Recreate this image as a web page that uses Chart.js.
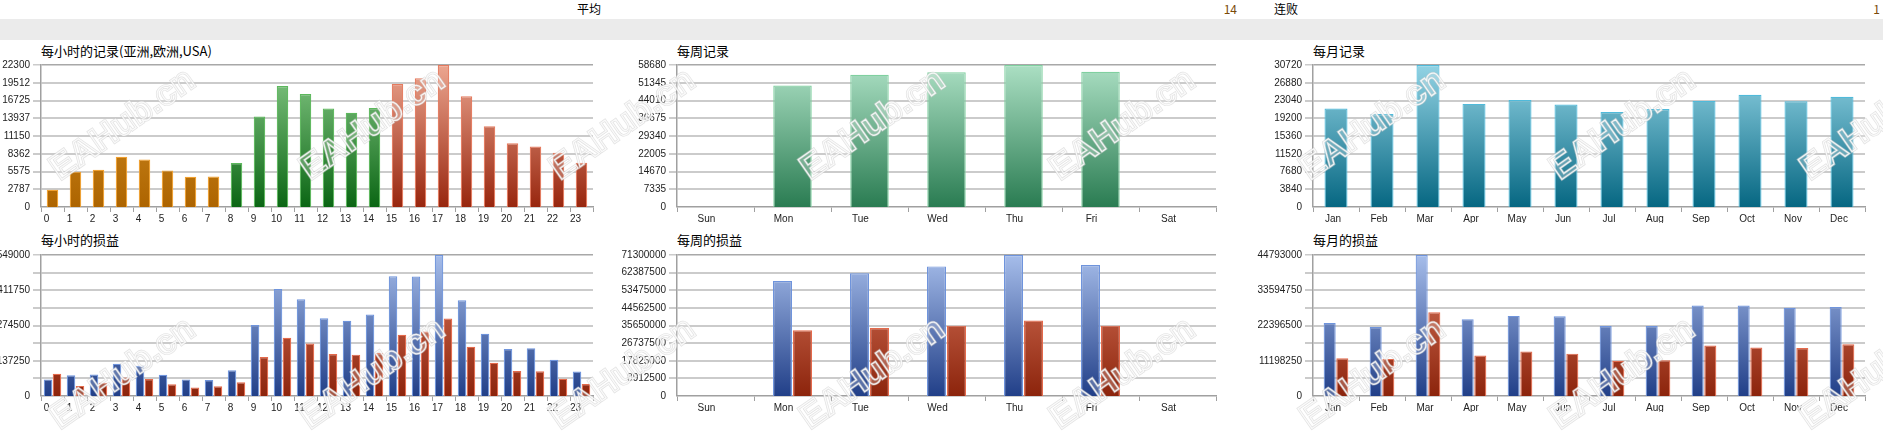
<!DOCTYPE html>
<html>
<head>
<meta charset="utf-8">
<script src="https://cdn.jsdelivr.net/npm/chart.js@4.4.1/dist/chart.umd.min.js"></script>
<style>
  body { margin: 0; width: 1883px; height: 436px; overflow: hidden; background: #fff; position: relative;
         font-family: "Noto Sans CJK SC", "Liberation Sans", sans-serif; }
  .t { position: absolute; font-size: 12px; line-height: 14px; color: #000; white-space: nowrap; }
  .num { color: #7a4a08; }
  .band { position: absolute; left: 0; top: 19px; width: 1883px; height: 21px; background: #ebebeb; }
  .ttl { position: absolute; font-size: 13px; line-height: 16px; color: #000; white-space: nowrap; }
  .box { position: absolute; }
  #mark { position: absolute; left: 0; top: 0; pointer-events: none; }
</style>
</head>
<body>
<div class="t" style="left:577px;top:2px">平均</div>
<div class="t num" style="left:1187px;top:2px;width:50px;text-align:right">14</div>
<div class="t" style="left:1274px;top:2px">连败</div>
<div class="t num" style="left:1830px;top:2px;width:50px;text-align:right">1</div>
<div class="band"></div>

<div class="ttl" style="left:41px;top:43px">每小时的记录(亚洲,欧洲,USA)</div>
<div class="ttl" style="left:677px;top:43px">每周记录</div>
<div class="ttl" style="left:1313px;top:43px">每月记录</div>
<div class="ttl" style="left:41px;top:232px">每小时的损益</div>
<div class="ttl" style="left:677px;top:232px">每周的损益</div>
<div class="ttl" style="left:1313px;top:232px">每月的损益</div>

<div class="box" style="left:0px;top:56px;width:600px;height:167px"><canvas id="hourCount"></canvas></div>
<div class="box" style="left:620px;top:56px;width:606px;height:167px"><canvas id="weekCount"></canvas></div>
<div class="box" style="left:1250px;top:56px;width:633px;height:167px"><canvas id="monthCount"></canvas></div>
<div class="box" style="left:0px;top:246px;width:600px;height:166px"><canvas id="hourPnl"></canvas></div>
<div class="box" style="left:620px;top:246px;width:606px;height:166px"><canvas id="weekPnl"></canvas></div>
<div class="box" style="left:1250px;top:246px;width:633px;height:166px"><canvas id="monthPnl"></canvas></div>
<canvas id="mark" width="1883" height="436"></canvas>

<script>
// categories
const hours = ["0","1","2","3","4","5","6","7","8","9","10","11","12","13","14","15","16","17","18","19","20","21","22","23"];
const weekdays = ["Sun","Mon","Tue","Wed","Thu","Fri","Sat"];
const months = ["Jan","Feb","Mar","Apr","May","Jun","Jul","Aug","Sep","Oct","Nov","Dec"];

// session of each hour: 0-7 Asia, 8-14 Europe, 15-23 USA
const hourSession = ["asia","asia","asia","asia","asia","asia","asia","asia",
  "europe","europe","europe","europe","europe","europe","europe",
  "usa","usa","usa","usa","usa","usa","usa","usa","usa"];

// records
const hourCount = [2700,5550,5850,7900,7450,5750,4750,4800,6900,14200,19000,17750,15450,14800,15550,19300,20200,22300,17400,12700,10000,9500,8500,6950];
const weekCount = [0,50200,54600,55700,58680,55850,0];
const monthCount = [21300,20100,30720,22300,23150,22150,20550,21200,22950,24300,22900,23850];

// profit / loss
const hourGain = [64700,81000,83700,125500,118000,82400,64700,62000,100000,276500,417000,376600,303000,293000,317000,466600,465000,549000,372800,242000,182600,186400,140700,95000];
const hourLoss = [86200,39300,52000,72300,66000,45600,33000,38000,53300,152000,227000,204000,163600,161000,167400,238400,251000,301800,191500,129300,97600,96400,67200,47000];
const weekGain = [0,58130000,62080000,65540000,71300000,66200000,0];
const weekLoss = [0,33260000,34400000,35570000,38200000,35570000,0];
const monthGain = [23170000,21930000,44793000,24410000,25450000,25340000,22240000,22240000,28760000,28760000,28030000,28240000];
const monthLoss = [12000000,11790000,26590000,12830000,14170000,13450000,11170000,11380000,16030000,15410000,15210000,16450000];

// axis maxima and tick labels
const hourCountMax = 22300;
const hourCountTicks = ["0","2787","5575","8362","11150","13937","16725","19512","22300"];
const weekCountMax = 58680;
const weekCountTicks = ["0","7335","14670","22005","29340","36675","44010","51345","58680"];
const monthCountMax = 30720;
const monthCountTicks = ["0","3840","7680","11520","15360","19200","23040","26880","30720"];
const hourPnlMax = 549000;
const hourPnlTicks = ["0","","137250","","274500","","411750","","549000"];
const weekPnlMax = 71300000;
const weekPnlTicks = ["0","8912500","17825000","26737500","35650000","44562500","53475000","62387500","71300000"];
const monthPnlMax = 44793000;
const monthPnlTicks = ["0","","11198250","","22396500","","33594750","","44793000"];

const tickFont = { family: "'Liberation Sans', Arial, sans-serif", size: 10 };

const sessionColors = {
  asia:   { top: "#d8962c", bottom: "#ad6400", border: "#f0a030" },
  europe: { top: "#86c886", bottom: "#0b6614", border: "#5cb85c" },
  usa:    { top: "#eca690", bottom: "#98260e", border: "#e57a5e" }
};
const blue = { top: "#a6bdea", bottom: "#213f88", border: "#6f94dc" };
const red  = { top: "#dc7a60", bottom: "#8c240c", border: "#e46a4c" };

function grad(chart, top, bottom) {
  const a = chart.chartArea;
  if (!a) return bottom;
  const g = chart.ctx.createLinearGradient(0, a.top, 0, a.bottom);
  g.addColorStop(0, top);
  g.addColorStop(1, bottom);
  return g;
}

function scales(max, tickLabels, yWidth, labelOffset) {
  return {
    x: {
      offset: true,
      grid: { offset: true, drawOnChartArea: false, drawTicks: true, tickLength: 5, color: "#a0a0a0" },
      border: { color: "#a0a0a0", width: 1.5 },
      ticks: { font: tickFont, color: "#222", padding: 1, maxRotation: 0, autoSkip: false, labelOffset: labelOffset },
      afterFit: s => { s.height = 16; }
    },
    y: {
      min: 0,
      max: max,
      afterBuildTicks: s => { s.ticks = tickLabels.map((_, i) => ({ value: max * i / 8 })); },
      ticks: { font: tickFont, color: "#222", padding: 3, callback: (v, i) => tickLabels[i] },
      grid: {
        color: c => c.index === 8 ? "#a8a8a8" : "#cbcbcb",
        lineWidth: c => c.index === 0 ? 0 : (c.index === 8 ? 1.5 : 2),
        tickLength: 8,
        tickColor: "#cbcbcb"
      },
      border: { color: "#a0a0a0", width: 1.5 },
      afterFit: s => { s.width = yWidth; }
    }
  };
}

function baseOptions(padRight, sc) {
  return {
    responsive: true,
    maintainAspectRatio: false,
    animation: false,
    layout: { padding: { top: 6, right: padRight, left: 0, bottom: 0 } },
    plugins: { legend: { display: false }, tooltip: { enabled: false } },
    scales: sc
  };
}

// hourly records
new Chart(document.getElementById("hourCount"), {
  type: "bar",
  data: {
    labels: hours,
    datasets: [{
      data: hourCount,
      backgroundColor: c => { const s = sessionColors[hourSession[c.dataIndex]]; return grad(c.chart, s.top, s.bottom); },
      borderColor: c => sessionColors[hourSession[c.dataIndex]].border,
      borderWidth: 1.2,
      barPercentage: 0.5,
      categoryPercentage: 1
    }]
  },
  options: baseOptions(7, scales(hourCountMax, hourCountTicks, 41, -6))
});

// weekly records
new Chart(document.getElementById("weekCount"), {
  type: "bar",
  data: {
    labels: weekdays,
    datasets: [{
      data: weekCount,
      backgroundColor: c => grad(c.chart, "#abdfc3", "#2a7c52"),
      borderColor: "#80d0a0",
      borderWidth: 1.2,
      barPercentage: 0.5,
      categoryPercentage: 1
    }]
  },
  options: baseOptions(10, scales(weekCountMax, weekCountTicks, 57, -9))
});

// monthly records
new Chart(document.getElementById("monthCount"), {
  type: "bar",
  data: {
    labels: months,
    datasets: [{
      data: monthCount,
      backgroundColor: c => grad(c.chart, "#92d3e4", "#066782"),
      borderColor: "#50bada",
      borderWidth: 1.2,
      barPercentage: 0.5,
      categoryPercentage: 1
    }]
  },
  options: baseOptions(18, scales(monthCountMax, monthCountTicks, 63, -3))
});

function pnlSets(gain, loss, cat) {
  return [
    { data: gain, backgroundColor: c => grad(c.chart, blue.top, blue.bottom), borderColor: blue.border,
      borderWidth: 1.2, barPercentage: 0.95, categoryPercentage: cat },
    { data: loss, backgroundColor: c => grad(c.chart, red.top, red.bottom), borderColor: red.border,
      borderWidth: 1.2, barPercentage: 0.95, categoryPercentage: cat }
  ];
}

// hourly profit / loss
new Chart(document.getElementById("hourPnl"), {
  type: "bar",
  data: { labels: hours, datasets: pnlSets(hourGain, hourLoss, 0.78) },
  options: baseOptions(7, scales(hourPnlMax, hourPnlTicks, 41, -6))
});

// weekly profit / loss
new Chart(document.getElementById("weekPnl"), {
  type: "bar",
  data: { labels: weekdays, datasets: pnlSets(weekGain, weekLoss, 0.52) },
  options: baseOptions(10, scales(weekPnlMax, weekPnlTicks, 57, -9))
});

// monthly profit / loss
new Chart(document.getElementById("monthPnl"), {
  type: "bar",
  data: { labels: months, datasets: pnlSets(monthGain, monthLoss, 0.55) },
  options: baseOptions(18, scales(monthPnlMax, monthPnlTicks, 63, -3))
});

// site watermark, repeated over the page
const mark = document.getElementById("mark").getContext("2d");
mark.font = "bold 35px 'Liberation Sans', Arial, sans-serif";
mark.textAlign = "center";
mark.textBaseline = "middle";
for (const cy of [125, 374]) {
  for (let cx = 123; cx < 1950; cx += 250) {
    mark.save();
    mark.translate(cx, cy);
    mark.rotate(-35 * Math.PI / 180);
    mark.fillStyle = "rgba(255,255,255,0.22)";
    mark.fillText("EAHub.cn", 0, 0);
    mark.lineWidth = 2.6;
    mark.strokeStyle = "rgba(200,200,200,0.55)";
    mark.strokeText("EAHub.cn", 0, 0);
    mark.lineWidth = 1.2;
    mark.strokeStyle = "rgba(255,255,255,0.85)";
    mark.strokeText("EAHub.cn", 0, 0);
    mark.restore();
  }
}
</script>
</body>
</html>
